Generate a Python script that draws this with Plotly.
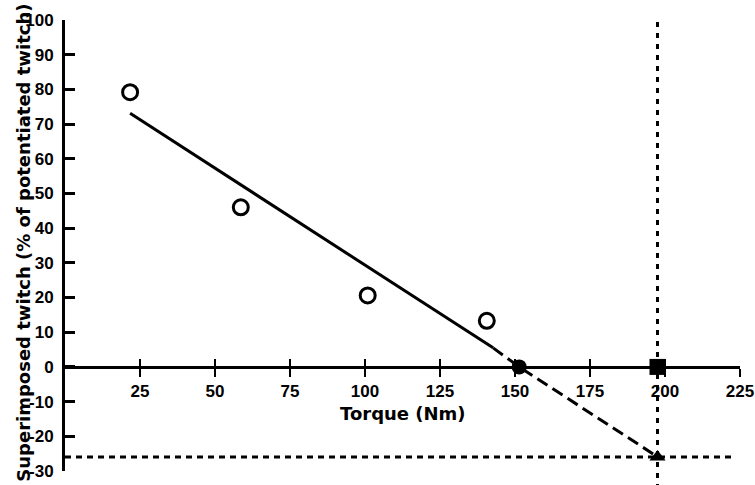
import plotly.graph_objects as go

# measured points
torque = [21.7, 58.6, 100.9, 140.6]
twitch = [79.2, 46.0, 20.6, 13.3]

# regression line (solid part) and its extrapolation (dashed)
fit_x = [21.7, 142.7]
fit_y = [73.1, 5.5]
extra_x = [142.7, 151.4, 197.5]
extra_y = [5.5, 0.0, -25.9]

# key points: x-intercept, target torque, extrapolated twitch
icept_x, icept_y = [151.4], [0]
mvc_x, mvc_y = [197.5], [0]
tri_x, tri_y = [197.5], [-26]

x_ticks = [25, 50, 75, 100, 125, 150, 175, 200, 225]
x_labels = ["<b>%d</b>" % v for v in x_ticks]
y_ticks = [-30, -20, -10, 0, 10, 20, 30, 40, 50, 60, 70, 80, 90, 100]
y_labels = ["<b>%d</b>" % v for v in y_ticks]

tick_font = dict(family="Liberation Sans", size=17, color="black")
title_font = dict(family="DejaVu Sans", size=18, color="black")

fig = go.Figure()

fig.add_trace(go.Scatter(x=fit_x, y=fit_y, mode="lines", xaxis="x2",
                         line=dict(color="black", width=3)))
fig.add_trace(go.Scatter(x=extra_x, y=extra_y, mode="lines",
                         line=dict(color="black", width=3, dash="12px,6px")))
fig.add_trace(go.Scatter(x=torque, y=twitch, mode="markers", cliponaxis=False,
                         marker=dict(symbol="circle-open", size=15, color="black",
                                     line=dict(width=3, color="black"))))
fig.add_trace(go.Scatter(x=icept_x, y=icept_y, mode="markers", cliponaxis=False,
                         marker=dict(symbol="circle", size=15, color="black")))
fig.add_trace(go.Scatter(x=mvc_x, y=mvc_y, mode="markers", cliponaxis=False,
                         marker=dict(symbol="square", size=16, color="black")))
fig.add_trace(go.Scatter(x=tri_x, y=tri_y, mode="markers", cliponaxis=False,
                         marker=dict(symbol="triangle-up", size=14, color="black")))

# dotted guide lines
fig.add_shape(type="line", xref="x", yref="paper", x0=mvc_x[0], x1=mvc_x[0], y0=-0.04, y1=1.006,
              line=dict(color="black", width=3, dash="5px,6px"))
fig.add_shape(type="line", xref="x", yref="y", x0=0, x1=223, y0=tri_y[0], y1=tri_y[0],
              line=dict(color="black", width=3, dash="6px,5px"))

fig.add_annotation(x=112.5, y=-13.5, xref="x", yref="y", text="<b>Torque (Nm)</b>",
                   showarrow=False, font=dict(family="DejaVu Sans", size=18, color="black"))
fig.add_annotation(x=-0.08, y=0.505, xref="paper", yref="paper",
                   text="<b>Superimposed twitch (% of potentiated twitch)</b>",
                   textangle=-90, showarrow=False, font=title_font)

fig.update_layout(
    width=755, height=485,
    margin=dict(l=65, r=15, t=20, b=14, autoexpand=False),
    paper_bgcolor="white", plot_bgcolor="white",
    showlegend=False,
    xaxis=dict(range=[0, 225], anchor="free", position=30 / 130, automargin=False,
               showline=True, linecolor="black", linewidth=3,
               tickvals=x_ticks, ticktext=x_labels, ticks="outside", ticklen=8, tickwidth=2,
               tickcolor="black", tickfont=tick_font, showgrid=False, zeroline=False),
    xaxis2=dict(range=[0, 225], overlaying="x", anchor="free", position=30 / 130,
                side="bottom", tickvals=x_ticks, ticks="inside", ticklen=8, tickwidth=2,
                tickcolor="black", showticklabels=False, showline=False,
                showgrid=False, zeroline=False),
    yaxis=dict(range=[-30, 100], showline=True, linecolor="black", linewidth=3,
               automargin=False,
               tickvals=y_ticks, ticktext=y_labels, ticks="inside", ticklen=10,
               tickwidth=3, tickcolor="black", tickfont=tick_font,
               ticklabelstandoff=5, showgrid=False, zeroline=False),
)

# drop the default page margin so the figure sits at the window's corner
fig.write_html("out.html", config={"displayModeBar": False},
               post_script="document.body.style.margin = '0';")
